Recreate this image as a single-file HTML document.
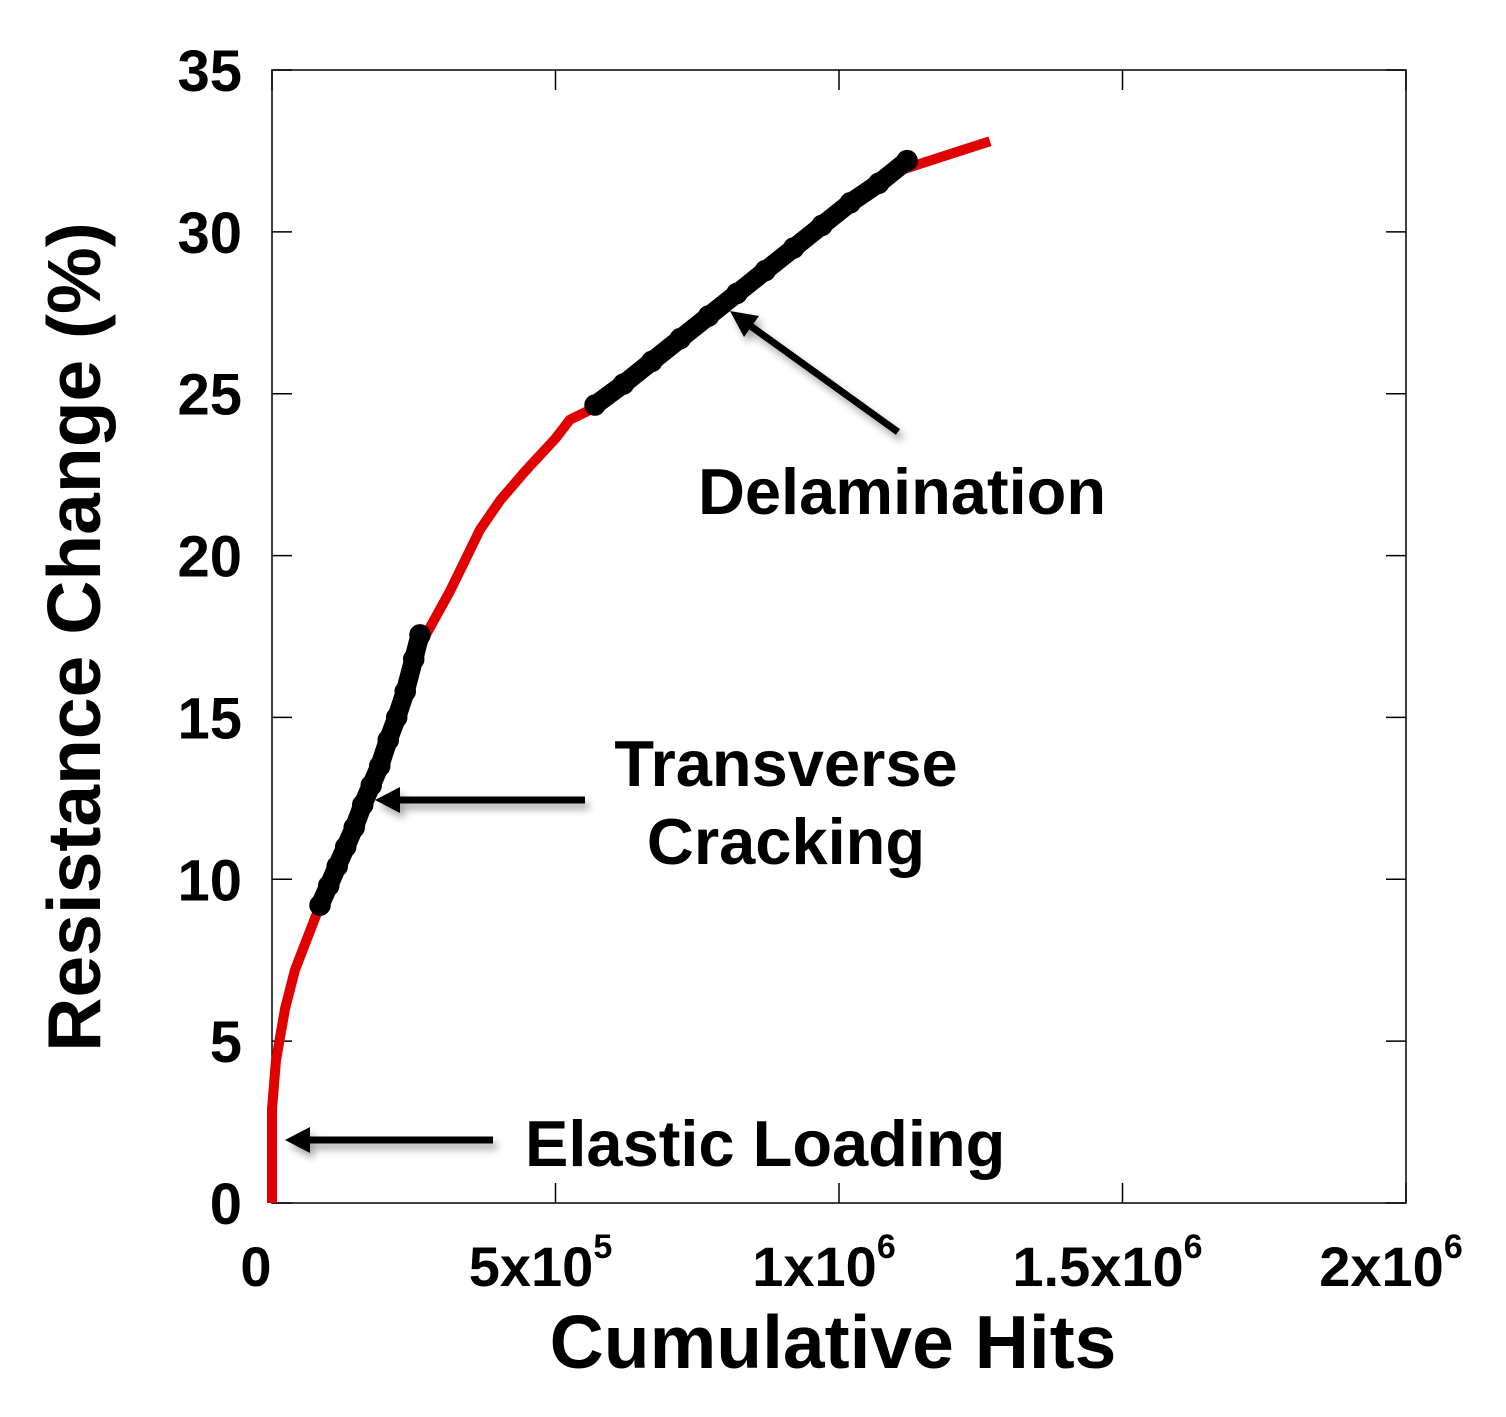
<!DOCTYPE html>
<html><head><meta charset="utf-8"><style>
html,body{margin:0;padding:0;background:#fff;}
svg text{font-family:"Liberation Sans",Arial,sans-serif;font-weight:bold;fill:#000;}
</style></head><body>
<svg id="chart" width="1506" height="1412" xmlns="http://www.w3.org/2000/svg">
<defs><filter id="sh" x="-20%" y="-50%" width="140%" height="200%"><feGaussianBlur in="SourceAlpha" stdDeviation="4"/><feOffset dx="4" dy="6"/><feComponentTransfer><feFuncA type="linear" slope="0.35"/></feComponentTransfer><feMerge><feMergeNode/><feMergeNode in="SourceGraphic"/></feMerge></filter></defs>
<rect x="272" y="70" width="1134" height="1133" fill="none" stroke="#000" stroke-width="1.5"/>
<g id="ticks"></g>
<g id="marks"></g>
<text x="833" y="1368" font-size="75" text-anchor="middle">Cumulative Hits</text>
<text transform="translate(100,637) rotate(-90)" font-size="75" text-anchor="middle">Resistance Change (%)</text>
<g>
<g filter="url(#sh)"><line x1="493" y1="1140" x2="305" y2="1140" stroke="#000" stroke-width="7"/><polygon points="285,1140 310,1127 310,1153" fill="#000"/></g>
<text x="525" y="1166" font-size="65">Elastic Loading</text></g>
<g>
<g filter="url(#sh)"><line x1="585" y1="800" x2="395" y2="800" stroke="#000" stroke-width="7"/><polygon points="375,800 400,787 400,813" fill="#000"/></g>
<text x="786" y="786" font-size="65" text-anchor="middle">Transverse</text>
<text x="786" y="864" font-size="65" text-anchor="middle">Cracking</text></g>
<g>
<g filter="url(#sh)"><line x1="898" y1="432" x2="745" y2="322" stroke="#000" stroke-width="7"/><polygon points="730,311 759,316 744,337" fill="#000"/></g>
<text x="902" y="514" font-size="65" text-anchor="middle">Delamination</text></g>
</svg>
<script>
const xTicks=[0,500000,1000000,1500000,2000000];
const xTickLabels=[["0",""],["5x10","5"],["1x10","6"],["1.5x10","6"],["2x10","6"]];
const yTicks=[0,5,10,15,20,25,30,35];
const redHits=[0,0,7000,23000,40500,67000,84700,128700,190500,269800,313900,366800,402100,446200,499100,525600,578500,666700,807800,966500,1107600,1160500,1213400,1266300];
const redRes=[0,2.9,4.4,6.0,7.2,8.4,9.2,11.2,13.7,17.5,18.9,20.8,21.7,22.6,23.6,24.2,24.65,25.9,27.9,30.06,31.9,32.2,32.5,32.8];
const transHits=[84700,100000,115000,130000,145000,160000,175000,190000,205000,220000,235000,250000,261000];
const transRes=[9.2,9.8,10.4,11.0,11.6,12.3,12.9,13.5,14.3,15.0,15.8,16.8,17.55];
const delamHits=[569700,620000,670000,720000,770000,820000,870000,920000,970000,1020000,1070000,1120000];
const delamRes=[24.65,25.3,26.0,26.7,27.4,28.1,28.8,29.5,30.2,30.9,31.5,32.2];
const X=v=>272+v/2000000*1134, Y=v=>1203-v/35*1133;
const NS="http://www.w3.org/2000/svg";
const tg=document.getElementById('ticks'), mg=document.getElementById('marks');
function mk(tag,a,p){const e=document.createElementNS(NS,tag);for(const k in a)e.setAttribute(k,a[k]);p.appendChild(e);return e;}
xTicks.forEach((t,i)=>{const x=X(t);
 const l1=mk('line',{x1:x,y1:1203,x2:x,y2:1183,stroke:'#000','stroke-width':1.5},tg);
 
 
 mk('line',{x1:x,y1:70,x2:x,y2:90,stroke:'#000','stroke-width':1.5},tg);
 const tx=mk('text',{x:i===0?256:x-15,y:1286,'font-size':56,'text-anchor':'middle'},tg);
 
 
 tx.textContent=xTickLabels[i][0];
 if(xTickLabels[i][1]){const s=mk('tspan',{dy:-28,'font-size':34},tx);s.textContent=xTickLabels[i][1];}
});
yTicks.forEach(t=>{const y=Y(t);
 const l=mk('line',{x1:272,y1:y,x2:292,y2:y,stroke:'#000','stroke-width':1.5},tg);
 
 
 mk('line',{x1:1386,y1:y,x2:1406,y2:y,stroke:'#000','stroke-width':1.5},tg);
 const tx=mk('text',{x:242,y:y+21,'font-size':58,'text-anchor':'end'},tg);
 
 
 tx.textContent=t;
});
const rp=redHits.map((h,i)=>X(h)+','+Y(redRes[i])).join(' ');
const red=mk('polyline',{points:rp,fill:'none',stroke:'#e00000','stroke-width':10,'stroke-linejoin':'round'},mg);


function fit(hs,rs,name){
 const g=mk('g',{},mg);
 
 
 mk('polyline',{points:hs.map((h,i)=>X(h)+','+Y(rs[i])).join(' '),fill:'none',stroke:'#000','stroke-width':19,'stroke-linecap':'round'},g);
 hs.forEach((h,i)=>{const c=mk('circle',{cx:X(h),cy:Y(rs[i]),r:10,fill:'none',stroke:'#000','stroke-width':1.5},g);
  
  });
}
fit(transHits,transRes,'transverse-cracking-fit');
fit(delamHits,delamRes,'delamination-fit');
</script>
</body></html>
